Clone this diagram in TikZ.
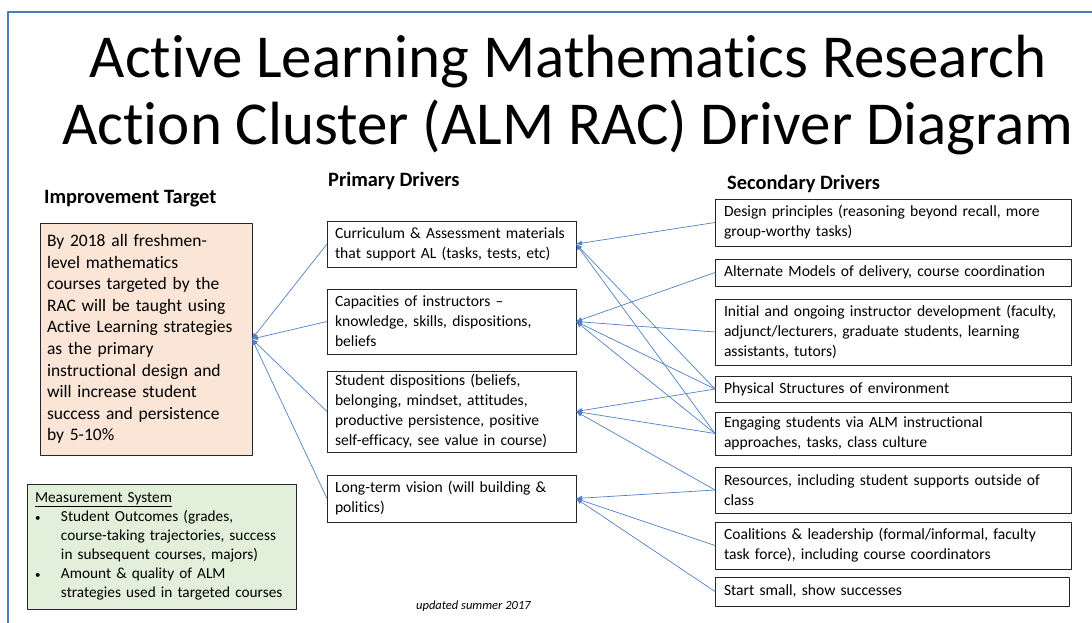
\documentclass[tikz,border=0pt]{standalone}
\usepackage{fontspec}
\setmainfont{Carlito}[Ligatures={TeX,NoCommon}]
\usepackage{xcolor}
\usepackage{tikz}
\usetikzlibrary{arrows.meta}
\definecolor{linkblue}{HTML}{4F81C7}
\definecolor{frameblue}{HTML}{4A7EBB}
\definecolor{targetfill}{HTML}{FBE5D6}
\definecolor{measfill}{HTML}{E2EFDA}
\tikzset{>={Latex[length=6pt,width=5pt]}}
\tikzset{
	drvbox/.style={draw=black!85, line width=0.8pt, anchor=north west, align=left, inner xsep=8pt, inner ysep=1.5pt, outer sep=0pt, font=\fontsize{15.6}{20}\selectfont},
	link/.style={->, draw=linkblue, line width=0.7pt},
	heading/.style={anchor=base west, inner sep=0pt, font=\bfseries\fontsize{20.4}{22}\selectfont},
	maintitle/.style={anchor=base, inner sep=0pt, font=\fontsize{61}{67}\selectfont}
}
\newcommand{\mbullet}{\makebox[26pt][l]{\fontsize{11}{11}\selectfont\textbullet}}

\begin{document}
\begin{tikzpicture}[line cap=round,line join=round,x=1pt,y=-1pt]
	\useasboundingbox (0,0) rectangle (1092,623);
	\draw[frameblue, line width=1.5pt] (8,623) -- (8,12) -- (1092,12);
	\node[maintitle] (title1) at (568,78) {Active Learning Mathematics Research};
	\node[maintitle] (title2) at (568,145) {Action Cluster (ALM RAC) Driver Diagram};
	\node[heading] (hTarget) at (44,203) {Improvement Target};
	\node[heading] (hPrimary) at (328,186) {Primary Drivers};
	\node[heading] (hSecondary) at (727,189) {Secondary Drivers};
	\node[drvbox, fill=targetfill, text width=198pt, minimum height=232pt, inner xsep=7pt, font=\fontsize{17.5}{21.6}\selectfont] (target) at (40,223) {By 2018 all freshmen-\\level mathematics\\courses targeted by the\\RAC will be taught using\\Active Learning strategies\\as the primary\\instructional design and\\will increase student\\success and persistence\\by 5-10\%};
	\node[drvbox, fill=measfill, text width=257pt, minimum height=125pt, inner xsep=6pt, font=\fontsize{15.3}{19}\selectfont] (meas) at (27,484) {\hspace*{2pt}\underline{Measurement System}\\\hspace*{2pt}\mbullet Student Outcomes (grades,\\\hspace*{28pt}course-taking trajectories, success\\\hspace*{28pt}in subsequent courses, majors)\\\hspace*{2pt}\mbullet Amount \& quality of ALM\\\hspace*{28pt}strategies used in targeted courses};
	\node[drvbox, text width=233pt, minimum height=46pt] (p1) at (327,221) {Curriculum \& Assessment materials\\that support AL (tasks, tests, etc)};
	\node[drvbox, text width=233pt, minimum height=65pt] (p2) at (327,289) {Capacities of instructors –\\knowledge, skills, dispositions,\\beliefs};
	\node[drvbox, text width=233pt, minimum height=81pt] (p3) at (327,371) {Student dispositions (beliefs,\\belonging, mindset, attitudes,\\productive persistence, positive\\self-efficacy, see value in course)};
	\node[drvbox, text width=233pt, minimum height=47pt] (p4) at (327,475) {Long-term vision (will building \&\\politics)};
	\node[drvbox, text width=338pt, minimum height=47pt, inner xsep=9pt] (s1) at (715,199) {Design principles (reasoning beyond recall, more\\group-worthy tasks)};
	\node[drvbox, text width=338pt, minimum height=27pt, inner xsep=9pt] (s2) at (715,259) {Alternate Models of delivery, course coordination};
	\node[drvbox, text width=338pt, minimum height=66pt, inner xsep=9pt] (s3) at (715,299) {Initial and ongoing instructor development (faculty,\\adjunct/lecturers, graduate students, learning\\assistants, tutors)};
	\node[drvbox, text width=338pt, minimum height=26pt, inner xsep=9pt] (s4) at (715,376) {Physical Structures of environment};
	\node[drvbox, text width=338pt, minimum height=43pt, inner xsep=9pt] (s5) at (715,412) {Engaging students via ALM instructional\\approaches, tasks, class culture};
	\node[drvbox, text width=338pt, minimum height=46pt, inner xsep=9pt] (s6) at (715,467) {Resources, including student supports outside of\\class};
	\node[drvbox, text width=338pt, minimum height=47pt, inner xsep=9pt] (s7) at (715,522) {Coalitions \& leadership (formal/informal, faculty\\task force), including course coordinators};
	\node[drvbox, text width=336pt, minimum height=29pt, inner xsep=9pt] (s8) at (715,577) {Start small, show successes};
	\node[anchor=base west, inner sep=0pt, font=\itshape\fontsize{12.5}{14}\selectfont] (updated) at (416,609) {updated summer 2017};
	\draw[link] (p1.west) -- (target.east);
	\draw[link] (p2.west) -- (target.east);
	\draw[link] (p3.west) -- (target.east);
	\draw[link] (p4.west) -- (target.east);
	\draw[link] (s1.west) -- (p1.east);
	\draw[link] (s4.west) -- (p1.east);
	\draw[link] (s5.west) -- (p1.east);
	\draw[link] (s2.west) -- (p2.east);
	\draw[link] (s3.west) -- (p2.east);
	\draw[link] (s4.west) -- (p2.east);
	\draw[link] (s5.west) -- (p2.east);
	\draw[link] (s4.west) -- (p3.east);
	\draw[link] (s5.west) -- (p3.east);
	\draw[link] (s6.west) -- (p3.east);
	\draw[link] (s6.west) -- (p4.east);
	\draw[link] (s7.west) -- (p4.east);
	\draw[link] (s8.west) -- (p4.east);
\end{tikzpicture}
\end{document}
